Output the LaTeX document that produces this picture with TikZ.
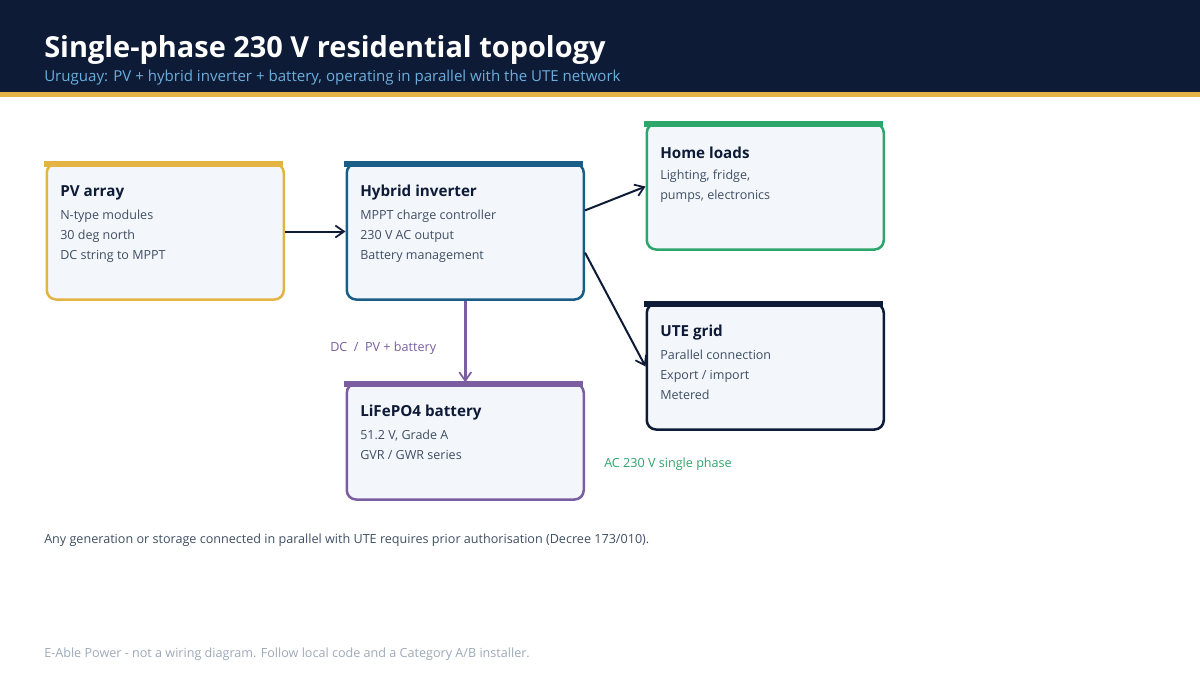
\documentclass[tikz,border=0pt]{standalone}
\usepackage{fontspec}
\setmainfont{Open Sans}
\usetikzlibrary{arrows.meta,positioning}
\definecolor{TopoNavy}{HTML}{0E1B36}
\definecolor{TopoGold}{HTML}{E3B343}
\definecolor{TopoSky}{HTML}{6AAEDD}
\definecolor{TopoTeal}{HTML}{1A5E87}
\definecolor{TopoGreen}{HTML}{2DA66B}
\definecolor{TopoPurple}{HTML}{7A5E9F}
\definecolor{TopoFill}{HTML}{F3F7FB}
\definecolor{TopoText}{HTML}{3F4E63}
\definecolor{TopoMuted}{HTML}{9DA9B8}

\tikzset{
  card/.style={draw=#1,fill=TopoFill,line width=1.9pt,rounded corners=7pt,
    inner sep=0pt,anchor=north west,minimum width=177.75pt},
  cardhead/.style={anchor=west,inner sep=0pt,text=TopoNavy,
    font=\bfseries\fontsize{11.4}{13}\selectfont},
  cardbody/.style={anchor=north west,inner sep=0pt,text=TopoText,align=left,
    font=\fontsize{9.4}{15}\selectfont},
  flow/.style={TopoNavy,line width=1.5pt,-{Straight Barb[length=6.5pt,width=9pt,line width=1.3pt]}},
  note/.style={anchor=west,inner sep=0pt,font=\fontsize{9.45}{11}\selectfont}
}

\begin{document}
\begin{tikzpicture}[x=0.75pt,y=-0.75pt]
  \useasboundingbox (0,0) rectangle (1200,675);

  % header band
  \fill[TopoNavy] (0,0) rectangle (1200,92);
  \fill[TopoGold] (0,92) rectangle (1200,96.5);
  \node[anchor=west,inner sep=0pt,text=white,
    font=\bfseries\fontsize{21.7}{25}\selectfont] (title) at (44,50)
    {Single-phase 230 V residential topology};
  \node[anchor=west,inner sep=0pt,text=TopoSky,
    font=\fontsize{11.3}{13}\selectfont] (subtitle) at (44,78)
    {Uruguay: PV + hybrid inverter + battery, operating in parallel with the UTE network};

  % cards
  \node[card=TopoGold,minimum height=102pt] (pv) at (45.5,162.25) {};
  \fill[TopoGold] (pv.north west) ++(-1.25,-1.25) rectangle ++(239,5.5);
  \node[cardhead] (pvhead) at (60,193) {PV array};
  \node[cardbody] (pvbody) at (60,210)
    {N-type modules\\30 deg north\\DC string to MPPT};

  \node[card=TopoTeal,minimum height=102pt] (inv) at (345.5,162.25) {};
  \fill[TopoTeal] (inv.north west) ++(-1.25,-1.25) rectangle ++(239,5.5);
  \node[cardhead] (invhead) at (360,193) {Hybrid inverter};
  \node[cardbody] (invbody) at (360,210)
    {MPPT charge controller\\230 V AC output\\Battery management};

  \node[card=TopoGreen,minimum height=94.5pt] (home) at (645.5,122.25) {};
  \fill[TopoGreen] (home.north west) ++(-1.25,-1.25) rectangle ++(239,5.5);
  \node[cardhead] (homehead) at (660,153) {Home loads};
  \node[cardbody] (homebody) at (660,170)
    {Lighting, fridge,\\pumps, electronics};

  \node[card=TopoNavy,minimum height=94.5pt] (ute) at (645.5,302.25) {};
  \fill[TopoNavy] (ute.north west) ++(-1.25,-1.25) rectangle ++(239,5.5);
  \node[cardhead] (utehead) at (660,333) {UTE grid};
  \node[cardbody] (utebody) at (660,350)
    {Parallel connection\\Export / import\\Metered};

  \node[card=TopoPurple,minimum height=87pt] (bat) at (345.5,382.25) {};
  \fill[TopoPurple] (bat.north west) ++(-1.25,-1.25) rectangle ++(239,5.5);
  \node[cardhead] (bathead) at (360,413) {LiFePO4 battery};
  \node[cardbody] (batbody) at (360,430)
    {51.2 V, Grade A\\GVR / GWR series};

  % connectors
  \draw[flow] (pv.east) -- (inv.west);
  \draw[flow] (inv.10) -- (home.west);
  \draw[flow] (inv.-10) -- (ute.west);
  \draw[flow,TopoPurple,line width=2.2pt] (inv.south) -- (bat.north);

  \node[note,text=TopoPurple] (dclabel) at (330,348) {DC\ \ /\ \ PV + battery};
  \node[note,text=TopoGreen] (aclabel) at (604,464) {AC 230 V single phase};

  % footer
  \node[note,text=TopoText] (legal) at (44,540)
    {Any generation or storage connected in parallel with UTE requires prior authorisation (Decree 173/010).};
  \node[note,text=TopoMuted] (credit) at (44,654)
    {E-Able Power - not a wiring diagram. Follow local code and a Category A/B installer.};
\end{tikzpicture}
\end{document}
